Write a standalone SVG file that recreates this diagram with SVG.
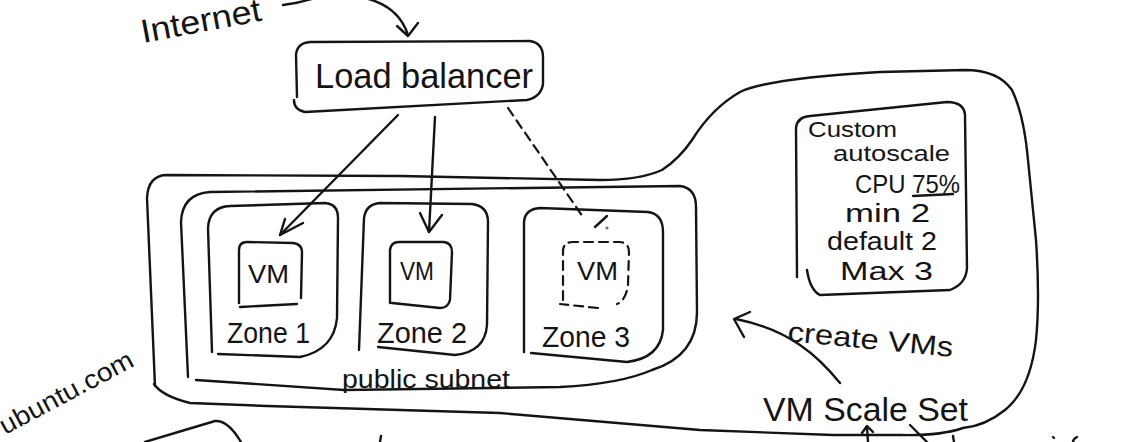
<svg xmlns="http://www.w3.org/2000/svg" width="1135" height="442" viewBox="0 0 1135 442">
<style>
.s{fill:none;stroke:#141414;stroke-width:2.4;stroke-linecap:round;stroke-linejoin:round}
.d{fill:none;stroke:#141414;stroke-width:2.2;stroke-linecap:round;stroke-dasharray:9 6}
.t{font-family:"Liberation Sans",Arial,sans-serif;fill:#141414}
</style>
<rect width="1135" height="442" fill="#fff"/>

<g id="internet">
<text class="t" x="143" y="43" font-size="33" textLength="122" lengthAdjust="spacingAndGlyphs" transform="rotate(-10.7 143 43)">Internet</text>
</g>

<g id="vm-scale-set">
<path class="s" d="M155,386 L147,198 Q148,176 166,175 L400,176 L600,180 Q640,180 662,170 Q680,158 692,140 Q712,108 740,92 Q770,78 880,72 L965,70 Q998,70 1012,90 Q1024,115 1028,160 L1036,240 Q1040,300 1036,340 Q1030,390 1005,410 Q985,426 963,428 Q940,436 900,435 L833,435 L700,430 L500,413 L267,406 L190,403 Q162,396 154,384"/>
<text class="t" x="763" y="421" font-size="34" textLength="205" lengthAdjust="spacingAndGlyphs">VM Scale Set</text>
</g>

<g id="public-subnet">
<path class="s" d="M188,377 L181,222 Q182,194 210,192 L680,186 Q696,188 696,207 L697,312 Q697,356 652,370 Q620,384 560,387 L344,390 L196,380"/>
<text class="t" x="342" y="388" font-size="26" textLength="168" lengthAdjust="spacingAndGlyphs">public subnet</text>
</g>

<g id="zone1">
<path class="s" d="M212,352 L208,228 Q209,207 230,206 L325,203 Q338,204 338,218 L337,318 Q334,350 300,357 L218,354"/>
<path class="s" d="M239,303 L239,250 Q239,242 247,242 L293,243 Q302,244 302,252 L301,298 M240,307 L297,304"/>
<text class="t" x="248" y="283" font-size="25" textLength="41" lengthAdjust="spacingAndGlyphs">VM</text>
<text class="t" x="227" y="343" font-size="29" textLength="83" lengthAdjust="spacingAndGlyphs">Zone 1</text>
</g>

<g id="zone2">
<path class="s" d="M359,350 L364,218 Q366,204 380,203 L472,204 Q488,206 488,222 L487,325 Q485,352 455,355 L378,347"/>
<path class="s" d="M390,303 L390,250 Q391,242 399,242 L444,242 Q452,243 452,252 L450,300 Q448,308 440,308 L392,303"/>
<text class="t" x="400" y="280" font-size="25" textLength="34" lengthAdjust="spacingAndGlyphs">VM</text>
<text class="t" x="377" y="343" font-size="29" textLength="90" lengthAdjust="spacingAndGlyphs">Zone 2</text>
</g>

<g id="zone3">
<path class="s" d="M524,352 L524,222 Q525,209 540,208 L648,212 Q663,214 663,232 L663,330 Q660,358 627,362 L531,353"/>
<path class="d" d="M563,300 L563,250 Q564,242 573,242 L620,242 Q629,243 629,252 L628,285 Q626,300 617,304 M598,308 L560,304"/>
<text class="t" x="577" y="280" font-size="25" textLength="41" lengthAdjust="spacingAndGlyphs">VM</text>
<text class="t" x="542" y="347" font-size="29" textLength="88" lengthAdjust="spacingAndGlyphs">Zone 3</text>
</g>

<g id="load-balancer">
<path class="s" d="M297,97 L296,55 Q297,43 310,42 L530,41 Q543,43 543,57 L543,84 Q541,97 527,100 L305,112 Q294,110 294,100"/>
<text class="t" x="315" y="88" font-size="35" textLength="218" lengthAdjust="spacingAndGlyphs">Load balancer</text>
</g>

<g id="custom-autoscale">
<path class="s" d="M797,277 L796,128 Q797,117 810,116 L947,102 Q964,102 965,115 L967,268 Q966,284 950,290 L820,295 Q810,290 807,270"/>
<text class="t" x="808" y="137" font-size="22" textLength="89" lengthAdjust="spacingAndGlyphs">Custom</text>
<text class="t" x="833" y="161" font-size="22" textLength="117" lengthAdjust="spacingAndGlyphs">autoscale</text>
<text class="t" x="855" y="193" font-size="26" textLength="105" lengthAdjust="spacingAndGlyphs">CPU 75%</text>
<path class="s" d="M913,196 L953,194"/>
<text class="t" x="845" y="222" font-size="26" textLength="85" lengthAdjust="spacingAndGlyphs">min 2</text>
<text class="t" x="827" y="250" font-size="26" textLength="110" lengthAdjust="spacingAndGlyphs">default 2</text>
<text class="t" x="840" y="280" font-size="26" textLength="93" lengthAdjust="spacingAndGlyphs">Max 3</text>
</g>

<g id="create-vms-label">
<text class="t" x="787" y="341" font-size="28" textLength="166" lengthAdjust="spacingAndGlyphs" transform="rotate(5.5 787 341)">create VMs</text>
</g>

<g id="ubuntu">
<text class="t" x="5" y="435" font-size="26" textLength="148" lengthAdjust="spacingAndGlyphs" transform="rotate(-28 5 435)">ubuntu.com</text>
<path class="s" d="M145,442 L215,421 Q228,420 241,442"/>
</g>

<g id="connectors">
<path class="s" d="M283,5 Q300,3 318,-3"/>
<path class="s" d="M360,-3 Q398,4 408,35"/>
<path class="s" d="M397,26 L408,36 L418,23"/>
<path class="s" d="M398,115 L280,235"/>
<path class="s" d="M285,219 L280,235 L303,223"/>
<path class="s" d="M435,117 L429,232"/>
<path class="s" d="M420,213 L429,232 L442,215"/>
<path class="d" d="M508,108 L583,217"/>
<path class="s" d="M595,227 L607,216"/>
<circle cx="607" cy="228" r="1.6" fill="#777"/>
<path class="s" d="M840,383 C818,356 790,330 736,319"/>
<path class="s" d="M750,312 L734,319 L744,337"/>
<path class="s" d="M862,433 L867,426 L873,432 M867,427 L868,442"/>
<path class="s" d="M910,425 L927,442"/>
<path class="s" d="M381,436 L380,442" stroke-width="4"/>
<path class="s" d="M953,436 L954,442 M1053,437 L1054,438 M1077,437 Q1073,439 1073,442"/>
</g>
</svg>
